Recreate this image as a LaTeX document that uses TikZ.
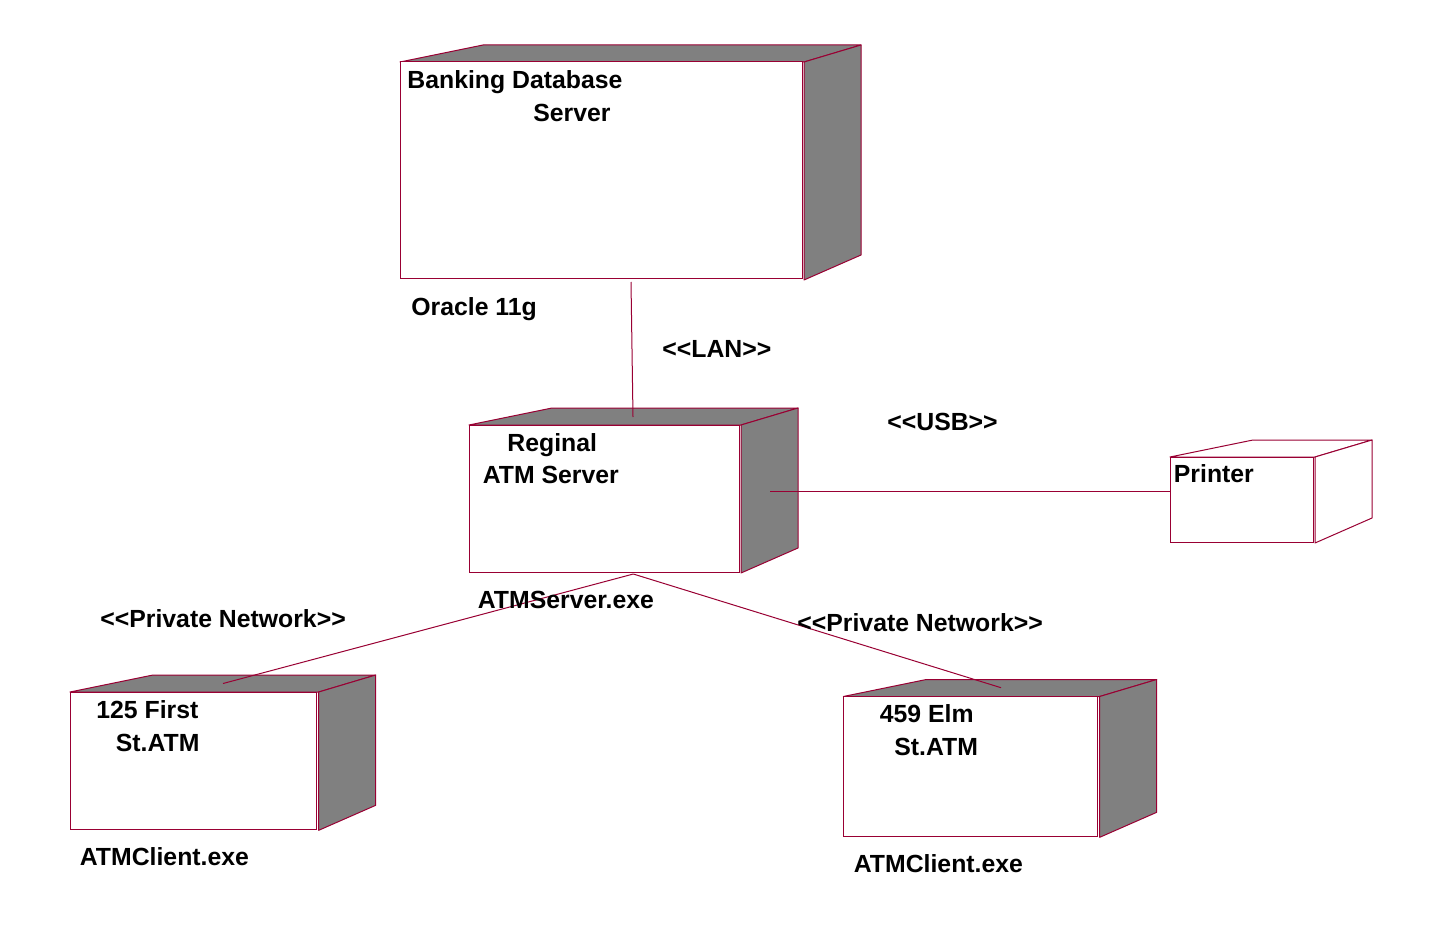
\documentclass[tikz,border=0pt]{standalone}
\usepackage{fontspec}
\setmainfont{Liberation Sans}[Ligatures=TeXOff]
\usetikzlibrary{fit}
\definecolor{edge}{RGB}{153,0,51}
\definecolor{face}{RGB}{128,128,128}
\newcommand\umlbox[6]{%
  \fill[#6,draw=edge,line width=0.5pt,line join=round] (#2,#3) -- (#2+83,#3-17) -- (#4+59,#3-17) -- (#4+2,#3) -- cycle;
  \fill[#6,draw=edge,line width=0.5pt,line join=round] (#4+2,#3) -- (#4+59,#3-17) -- (#4+59,#5-24) -- (#4+2,#5+1) -- cycle;
  \path (#2,#3) coordinate (#1-nw) (#4,#5) coordinate (#1-se);
  \node[fit=(#1-nw)(#1-se),inner sep=0pt,draw=edge,fill=white,line width=0.5pt] (#1) {};
}
\tikzset{
  lbl/.style={anchor=base west,inner sep=0pt,font=\fontsize{12.4}{14}\selectfont\bfseries},
  link/.style={draw=edge,line width=0.5pt}
}
\begin{document}
\begin{tikzpicture}[x=0.5pt,y=-0.5pt]
\useasboundingbox[fill=white] (0,0) rectangle (1445,941);
\umlbox{db}{400}{62}{802}{279}{face}
\umlbox{srv}{469}{425}{739}{572}{face}
\umlbox{prn}{1170}{457}{1313}{542}{white}
\umlbox{c1}{70}{692}{316.7}{829.3}{face}
\umlbox{c2}{843.3}{696.5}{1097.7}{836.3}{face}
% connector end points
\coordinate (lanA) at (631,282);
\coordinate (lanB) at (633,417);
\coordinate (usbA) at (770,491);
\coordinate (pnA) at (633.3,574);
\coordinate (pnL) at (223,683.5);
\coordinate (pnR) at (1001,687.7);
\draw[link] (lanA) -- (lanB);
\draw[link] (usbA) -- (prn.west |- usbA);
\draw[link] (pnA) -- (pnL);
\draw[link] (pnA) -- (pnR);
% texts
\node[lbl] (t1) at (407,88.5) {Banking Database};
\node[lbl] (t2) at (533,121.5) {Server};
\node[lbl] (t3) at (411,315.5) {Oracle 11g};
\node[lbl] (t4) at (662,357.5) {<<LAN>>};
\node[lbl] (t5) at (887,430.5) {<<USB>>};
\node[lbl] (t6) at (507,451.5) {Reginal};
\node[lbl] (t7) at (482.5,483.5) {ATM Server};
\node[lbl] (t8) at (1173.5,482.5) {Printer};
\node[lbl] (t9) at (477.5,608.5) {ATMServer.exe};
\node[lbl] (t10) at (100,627.5) {<<Private Network>>};
\node[lbl] (t11) at (797,631.5) {<<Private Network>>};
\node[lbl] (t12) at (96,718.5) {125 First};
\node[lbl] (t13) at (115.5,751) {St.ATM};
\node[lbl] (t14) at (79.5,865.5) {ATMClient.exe};
\node[lbl] (t15) at (879.5,722) {459 Elm};
\node[lbl] (t16) at (894,755) {St.ATM};
\node[lbl] (t17) at (853.5,872.5) {ATMClient.exe};
\end{tikzpicture}
\end{document}
